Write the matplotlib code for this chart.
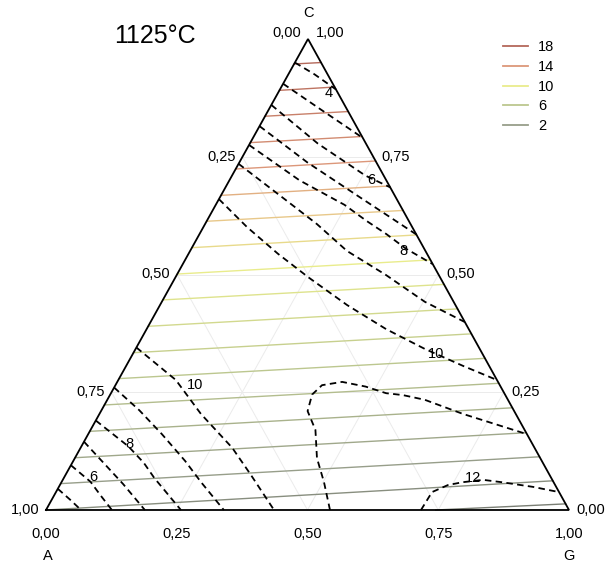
import numpy as np
import matplotlib.pyplot as plt
from matplotlib.colors import LinearSegmentedColormap, Normalize
from matplotlib.lines import Line2D

plt.rcParams['font.family'] = ['Liberation Sans', 'DejaVu Sans']

# ---- data (ternary coordinates given as (G, C); A = 1 - G - C) ----
title = "1125°C"
vertex_names = ["A", "G", "C"]
tick_values = [0.0, 0.25, 0.5, 0.75, 1.0]

# solid iso-lines: level, start point (G, C), end point on the G-C edge (C)
solid_levels = list(range(0, 19))
solid_start_g = [0.745] + [0.0] * 18
solid_start_c = [0.0, 0.0, 0.056, 0.111, 0.167, 0.223, 0.279, 0.334, 0.390, 0.446,
                 0.501, 0.557, 0.613, 0.668, 0.724, 0.780, 0.836, 0.891, 0.947]
solid_end_c = [0.013, 0.062, 0.113, 0.164, 0.217, 0.269, 0.322, 0.374, 0.427, 0.479,
               0.531, 0.584, 0.636, 0.688, 0.741, 0.793, 0.846, 0.898, 0.950]
legend_levels = [18, 14, 10, 6, 2]

# dashed iso-lines, upper group
iso4_top = [(0.0, 0.95), (0.05, 0.925), (0.107, 0.893)]
iso5_top = [(0.0, 0.905), (0.1, 0.85), (0.21, 0.79)]
iso6_top = [(0.0, 0.86), (0.13, 0.778), (0.255, 0.71), (0.315, 0.685)]
iso7_top = [(0.0, 0.815), (0.13, 0.738), (0.26, 0.668), (0.415, 0.585)]
iso8_top = [(0.0, 0.775), (0.134, 0.70), (0.246, 0.648), (0.305, 0.614),
            (0.357, 0.586), (0.41, 0.555), (0.478, 0.522)]
iso9_top = [(0.0, 0.735), (0.129, 0.658), (0.214, 0.607), (0.3, 0.55),
            (0.4, 0.499), (0.503, 0.442), (0.601, 0.399)]
iso10_top = [(0.0, 0.66), (0.083, 0.601), (0.171, 0.544), (0.256, 0.493),
             (0.358, 0.435), (0.458, 0.384), (0.553, 0.342), (0.644, 0.306),
             (0.724, 0.276)]

# dashed iso-lines, lower-left group
iso5_low = [(0.0, 0.045), (0.035, 0.022), (0.067, 0.0)]
iso6_low = [(0.0, 0.095), (0.055, 0.06), (0.09, 0.03), (0.126, 0.0)]
iso7_low = [(0.0, 0.145), (0.06, 0.1), (0.12, 0.055), (0.189, 0.0)]
iso8_low = [(0.0, 0.19), (0.09, 0.135), (0.137, 0.1), (0.173, 0.068), (0.258, 0.0)]
iso9_low = [(0.0, 0.26), (0.072, 0.212), (0.141, 0.161), (0.214, 0.104),
            (0.267, 0.059), (0.34, 0.0)]
iso10_low = [(0.0, 0.345), (0.11, 0.276), (0.194, 0.204), (0.29, 0.132),
             (0.355, 0.074), (0.436, 0.0)]

# dashed iso-lines, lower-right
iso11 = [(0.543, 0.0), (0.502, 0.059), (0.463, 0.11), (0.43, 0.17), (0.395, 0.21),
         (0.386, 0.245), (0.395, 0.265), (0.43, 0.272), (0.48, 0.262),
         (0.526, 0.248), (0.56, 0.244), (0.607, 0.234), (0.695, 0.204),
         (0.839, 0.161)]
iso12 = [(0.717, 0.0), (0.719, 0.038), (0.742, 0.053), (0.767, 0.059),
         (0.804, 0.064), (0.842, 0.059), (0.907, 0.049), (0.962, 0.038)]

dashed_lines = [iso4_top, iso5_top, iso6_top, iso7_top, iso8_top, iso9_top, iso10_top,
                iso5_low, iso6_low, iso7_low, iso8_low, iso9_low, iso10_low,
                iso11, iso12]

label_text = ["4", "6", "8", "10", "10", "8", "6", "12"]
label_g = [0.097, 0.272, 0.407, 0.58, 0.152, 0.09, 0.055, 0.782]
label_c = [0.885, 0.70, 0.55, 0.331, 0.265, 0.14, 0.07, 0.068]

# ---- layout ----
VA = np.array([46.0, 510.0])
VG = np.array([569.0, 510.0])
VC = np.array([308.0, 39.0])


def tern(g, c):
    g = np.asarray(g, dtype=float)
    c = np.asarray(c, dtype=float)
    a = 1.0 - g - c
    x = a * VA[0] + g * VG[0] + c * VC[0]
    y = a * VA[1] + g * VG[1] + c * VC[1]
    return x, y


fig = plt.figure(figsize=(6.05, 5.65), dpi=100)
ax = fig.add_axes([0, 0, 1, 1])
ax.set_xlim(0, 605)
ax.set_ylim(565, 0)
ax.axis('off')

# light grid
for v in tick_values[1:-1]:
    for gs, cs in [((0, 1 - v), (v, v)), ((v, v), (0, 1 - v)), ((1 - v, 0), (0, 1 - v))]:
        x, y = tern(gs, cs)
        ax.plot(x, y, color='#ebebeb', lw=0.7, zorder=1)

# solid coloured iso-lines
cmap = LinearSegmentedColormap.from_list(
    'iso', [(0, '#7a7e74'), (2 / 18, '#979e8a'), (6 / 18, '#bcc78f'),
            (10 / 18, '#e9ec8c'), (12 / 18, '#e8c88a'), (14 / 18, '#dc987a'),
            (1, '#b4685a')])
norm = Normalize(0, 18)
for lev, g0, c0, c1 in zip(solid_levels, solid_start_g, solid_start_c, solid_end_c):
    x, y = tern([g0, 1 - c1], [c0, c1])
    ax.plot(x, y, color=cmap(norm(lev)), lw=1.0, zorder=2)

# dashed iso-lines
for pts in dashed_lines:
    g, c = zip(*pts)
    x, y = tern(g, c)
    ax.plot(x, y, color='black', lw=1.3, linestyle=(0, (3.6, 2.4)), zorder=3)

for t, g, c in zip(label_text, label_g, label_c):
    x, y = tern(g, c)
    ax.text(x, y, t, fontsize=10.5, ha='center', va='center', zorder=5)

# triangle border
x, y = tern([0, 1, 0, 0], [0, 0, 1, 0])
ax.plot(x, y, color='black', lw=1.3, zorder=4, solid_joinstyle='miter')


# tick labels
def fmt(v):
    return f"{v:.2f}".replace('.', ',')


for v in tick_values:
    # bottom: G fraction
    x, y = tern(v, 0)
    ax.annotate(fmt(v), (x, y), xytext=(0, -17), textcoords='offset points',
                ha='center', va='center', fontsize=10.5)
    # left: A fraction
    x, y = tern(0, 1 - v)
    dy = 4 if v == 0 else 0
    ax.annotate(fmt(v), (x, y), xytext=(-15, dy), textcoords='offset points',
                ha='center', va='center', fontsize=10.5)
    # right: C fraction
    x, y = tern(1 - v, v)
    dy = 4 if v == 1 else 0
    ax.annotate(fmt(v), (x, y), xytext=(16, dy), textcoords='offset points',
                ha='center', va='center', fontsize=10.5)

for name, (g, c), off in zip(vertex_names, [(0, 0), (1, 0), (0, 1)],
                             [(1, -33), (0, -33), (0, 19)]):
    x, y = tern(g, c)
    ax.annotate(name, (x, y), xytext=off, textcoords='offset points',
                ha='center', va='center', fontsize=10.5)

ax.text(155, 36, title, fontsize=18, ha='center', va='center')

handles = [Line2D([], [], color=cmap(norm(v)), lw=1.3) for v in legend_levels]
ax.legend(handles, [str(v) for v in legend_levels], loc='upper left',
          bbox_to_anchor=(503, 40), bbox_transform=ax.transData, frameon=False,
          fontsize=10.5, handlelength=1.7, handletextpad=0.7, labelspacing=0.4,
          borderpad=0, borderaxespad=0)

fig.savefig('out.png', dpi=100)
